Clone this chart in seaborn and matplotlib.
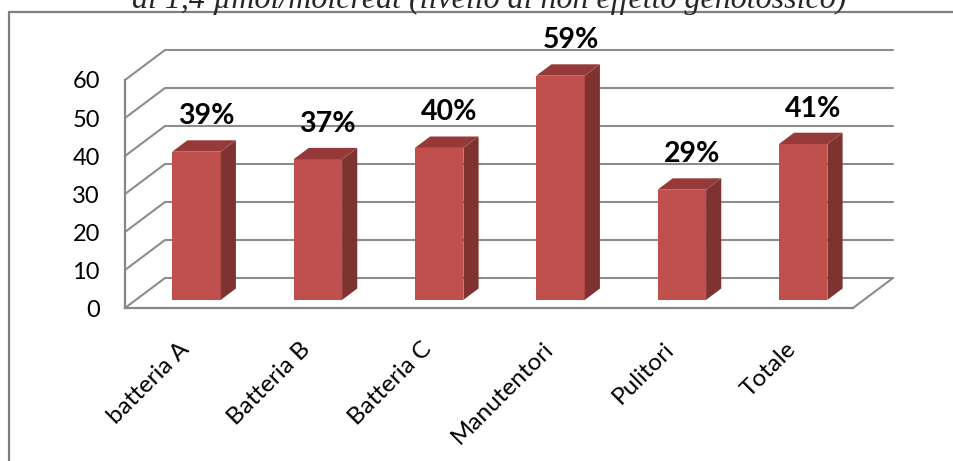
import matplotlib
matplotlib.use("Agg")
import matplotlib.pyplot as plt
import pandas as pd
import seaborn as sns
from matplotlib.patches import Polygon
from matplotlib.transforms import Affine2D
from matplotlib.lines import Line2D

# ---- data ----
categories = ["batteria A", "Batteria B", "Batteria C", "Manutentori", "Pulitori", "Totale"]
values = [39, 37, 40, 59, 29, 41]
y_ticks = [0, 10, 20, 30, 40, 50, 60]
title = "al 1,4 µmol/molcreat (livello di non effetto genotossico)"

# ---- style ----
FRONT = "#C0504D"
SIDE = "#7E3331"
TOP = "#953A38"
GRID = "#8C8C8C"
AXIS = "#868686"

sns.set_theme(style="white")
plt.rcParams["font.family"] = ["Lato", "DejaVu Sans"]

W, H = 954, 461
fig = plt.figure(figsize=(W / 100, H / 100), dpi=100)
fig.patch.set_facecolor("white")

# front plane of the 3-D box (pixels)
x0p, x1p, y0p, y1p = 125, 853, 308, 80
ax = fig.add_axes([x0p / W, 1 - y0p / H, (x1p - x0p) / W, (y0p - y1p) / H])
ax.patch.set_alpha(0)

ncat = len(categories)
px_per_cat = (x1p - x0p) / ncat
px_per_unit = (y0p - y1p) / (y_ticks[-1] - y_ticks[0])
# depth of the box, in data units
dx = 40 / px_per_cat
dy = 30 / px_per_unit
f_front, f_back = 0.27, 0.65

df = pd.DataFrame({"cat": categories, "val": values})
sns.barplot(data=df, x="cat", y="val", ax=ax, width=0.4, color=FRONT,
            saturation=1, edgecolor="none", linewidth=0, zorder=3)
ax.set_xlim(-0.5, ncat - 0.5)
ax.set_ylim(y_ticks[0], y_ticks[-1])

# back wall, side wall and floor grid
xl, xr = -0.5, ncat - 0.5
for v in y_ticks:
    ax.plot([xl + dx, xr + dx], [v + dy, v + dy], color=GRID, lw=1.5,
            clip_on=False, zorder=1)
    ax.plot([xl, xl + dx], [v, v + dy], color=GRID, lw=1.5,
            clip_on=False, zorder=1)
ax.plot([xr, xr + dx], [0, dy], color=GRID, lw=1.5, clip_on=False, zorder=1)

# push bars into the box and add their side and top faces
ox, oy = f_front * dx, f_front * dy
ddx, ddy = (f_back - f_front) * dx, (f_back - f_front) * dy
for bar, v in zip(ax.patches, values):
    bar.set_transform(Affine2D().translate(ox, oy) + ax.transData)
    bar.set_clip_on(False)
    bx0 = bar.get_x() + ox
    bx1 = bx0 + bar.get_width()
    by0 = bar.get_y() + oy
    by1 = by0 + bar.get_height()
    side = Polygon([(bx1, by0), (bx1 + ddx, by0 + ddy), (bx1 + ddx, by1 + ddy), (bx1, by1)],
                   closed=True, facecolor=SIDE, edgecolor="none", clip_on=False, zorder=3)
    top = Polygon([(bx0, by1), (bx1, by1), (bx1 + ddx, by1 + ddy), (bx0 + ddx, by1 + ddy)],
                  closed=True, facecolor=TOP, edgecolor="none", clip_on=False, zorder=3)
    ax.add_patch(side)
    ax.add_patch(top)
    ax.text((bx0 + bx1) / 2 + ddx / 2 + 0.02, by1 + ddy + 16 / px_per_unit, f"{v}%",
            ha="center", va="baseline", fontsize=20.5, fontweight="bold",
            color="black", zorder=5, clip_on=False)

# axes
for s in ["top", "right"]:
    ax.spines[s].set_visible(False)
for s in ["left", "bottom"]:
    ax.spines[s].set_color(AXIS)
    ax.spines[s].set_linewidth(1.6)
    ax.spines[s].set_zorder(2)
ax.set_yticks(y_ticks)
ax.set_yticklabels([str(t) for t in y_ticks])
ax.tick_params(axis="y", direction="out", length=6, width=1.5, color=AXIS,
               pad=12, labelsize=17, labelcolor="black")
ax.set_xticks(range(ncat))
ax.set_xticklabels(categories, rotation=45, ha="right", rotation_mode="anchor",
                   va="center")
ax.set_xticks([i - 0.5 for i in range(ncat + 1)], minor=True)
ax.tick_params(axis="x", which="major", length=0, pad=27, labelsize=17.5,
               labelcolor="black")
ax.tick_params(axis="x", which="minor", direction="out", length=5, width=1.5,
               color=AXIS)
ax.set_xlabel("")
ax.set_ylabel("")
ax.grid(False)

# chart frame
fig.add_artist(Line2D([9.5 / W, 9.5 / W], [0, 1 - 12 / H], color="#7F7F7F", lw=1.6))
fig.add_artist(Line2D([9.5 / W, 1], [1 - 12 / H, 1 - 12 / H], color="#7F7F7F", lw=1.6))

# title, running off the top edge
fig.text(489 / W, 1 - 8 / H, title, ha="center", va="baseline",
         fontsize=23, fontstyle="italic", family=["Liberation Serif", "DejaVu Serif"])

fig.savefig("out.png", dpi=100, facecolor="white")
